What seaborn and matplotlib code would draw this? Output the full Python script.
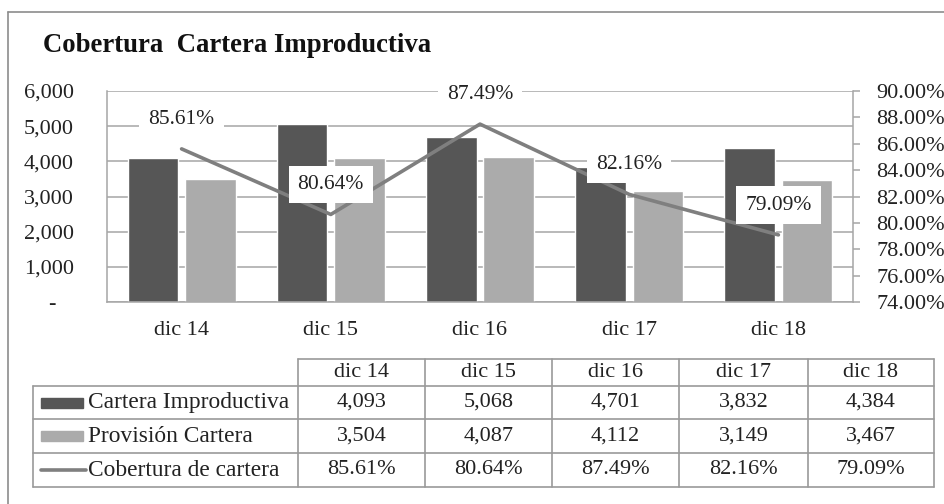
import numpy as np
import pandas as pd
import matplotlib
matplotlib.use("Agg")
import matplotlib.pyplot as plt
from matplotlib.lines import Line2D
from matplotlib.patches import Rectangle
import seaborn as sns

# ---- data ----
categories = ["dic 14", "dic 15", "dic 16", "dic 17", "dic 18"]
cartera_improductiva = [4093, 5068, 4701, 3832, 4384]
provision_cartera = [3504, 4087, 4112, 3149, 3467]
cobertura = [85.61, 80.64, 87.49, 82.16, 79.09]
series_names = ["Cartera Improductiva", "Provisión Cartera", "Cobertura de cartera"]
title = "Cobertura  Cartera Improductiva"
left_ticks = [0, 1000, 2000, 3000, 4000, 5000, 6000]
right_ticks = [74, 76, 78, 80, 82, 84, 86, 88, 90]

DARK = "#565656"
LIGHT = "#ababab"
LINE = "#7f7f7f"
GRID = "#a6a6a6"
FONT = "Liberation Serif"

sns.set_theme(style="white")
plt.rcParams["font.family"] = [FONT, "DejaVu Serif"]

W, H = 945, 504
fig = plt.figure(figsize=(W / 100, H / 100), dpi=100)


def fx(x):
    return x / W


def fy(y):
    return 1 - y / H


# outer frame (left and top visible)
fig.add_artist(Line2D([fx(8), fx(8)], [0, fy(12)], color="#8c8c8c", lw=1.2))
fig.add_artist(Line2D([fx(8), 1], [fy(12), fy(12)], color="#8c8c8c", lw=1.2))

# title
fig.text(fx(43), fy(45), title, fontsize=19.3, fontweight="bold",
         ha="left", va="center", color="#111111")

# ---- main axes ----
ax = fig.add_axes([fx(107), fy(302), fx(853) - fx(107), fy(91) - fy(302)])
df = pd.DataFrame({
    "fecha": categories * 2,
    "valor": cartera_improductiva + provision_cartera,
    "serie": [series_names[0]] * len(categories) + [series_names[1]] * len(categories),
})
sns.barplot(data=df, x="fecha", y="valor", hue="serie",
            palette=[DARK, LIGHT], width=0.77, gap=0.12,
            ax=ax, legend=False, zorder=2)
ax.set_ylim(0, 6000)
ax.set_yticks(left_ticks)
ax.set_yticklabels(["-   " if v == 0 else f"{v:,}" for v in left_ticks])
ax.set_xlim(-0.5, len(categories) - 0.5)
ax.set_xlabel("")
ax.set_ylabel("")
ax.grid(axis="y", color=GRID, lw=1.1, zorder=0)
ax.set_axisbelow(True)
ax.tick_params(axis="y", length=0, pad=24, labelsize=16, labelcolor="#222222")
ax.tick_params(axis="x", length=0, pad=14, labelsize=16, labelcolor="#222222")
for s in ["top", "right"]:
    ax.spines[s].set_visible(False)
ax.spines["left"].set_color(GRID)
ax.spines["bottom"].set_color(GRID)
ax.spines["left"].set_linewidth(1.1)
ax.spines["bottom"].set_linewidth(1.1)

# ---- secondary axis: line ----
ax2 = ax.twinx()
xpos = np.arange(len(categories))
sns.lineplot(x=xpos, y=cobertura, ax=ax2, color=LINE, lw=2.6, legend=False)
ax2.set_ylim(74, 90)
ax2.set_yticks(right_ticks)
ax2.set_yticklabels([f"{v:.2f}%" for v in right_ticks])
ax2.set_xlim(-0.5, len(categories) - 0.5)
ax2.set_ylabel("")
ax2.tick_params(axis="y", length=5, width=1.1, color=GRID, pad=12,
                labelsize=16, labelcolor="#222222")
for s in ["top", "left", "bottom"]:
    ax2.spines[s].set_visible(False)
ax2.spines["right"].set_color(GRID)
ax2.spines["right"].set_linewidth(1.1)

for xi, v in zip(xpos, cobertura):
    ax2.annotate(f"{v:.2f}%", (xi, v), xytext=(0, 21.5), textcoords="offset points",
                 ha="center", va="center", fontsize=15.5, color="#222222", zorder=5,
                 bbox=dict(boxstyle="square,pad=0.42", fc="white", ec="none"))

# ---- data table ----
col_edges = [298, 425, 552, 679, 808, 934]
row_edges = [359, 386, 419, 453, 487]
tbl_left = 33
TC = "#9a9a9a"
lw = 1.2
fig.add_artist(Line2D([fx(col_edges[0]), fx(col_edges[-1])], [fy(row_edges[0])] * 2, color=TC, lw=lw))
for r in row_edges[1:]:
    fig.add_artist(Line2D([fx(tbl_left), fx(col_edges[-1])], [fy(r)] * 2, color=TC, lw=lw))
fig.add_artist(Line2D([fx(tbl_left)] * 2, [fy(row_edges[1]), fy(row_edges[-1])], color=TC, lw=lw))
for c in col_edges:
    fig.add_artist(Line2D([fx(c)] * 2, [fy(row_edges[0]), fy(row_edges[-1])], color=TC, lw=lw))

# header
for i, cat in enumerate(categories):
    cx = (col_edges[i] + col_edges[i + 1]) / 2
    cy = (row_edges[0] + row_edges[1]) / 2
    fig.text(fx(cx), fy(cy), cat, ha="center", va="center", fontsize=16, color="#222222")

rows = [
    [f"{v:,}" for v in cartera_improductiva],
    [f"{v:,}" for v in provision_cartera],
    [f"{v:.2f}%" for v in cobertura],
]
for r, (name, vals) in enumerate(zip(series_names, rows)):
    y0, y1 = row_edges[r + 1], row_edges[r + 2]
    cy = (y0 + y1) / 2
    # legend key
    if r < 2:
        fig.add_artist(Rectangle((fx(41), fy(cy + 5)), fx(83) - fx(41), fy(cy - 5) - fy(cy + 5),
                                 color=[DARK, LIGHT][r], transform=fig.transFigure))
    else:
        fig.add_artist(Line2D([fx(41), fx(86)], [fy(cy)] * 2, color=LINE, lw=2.6))
    fig.text(fx(88), fy(cy), name, ha="left", va="center", fontsize=16.8, color="#222222")
    for i, t in enumerate(vals):
        cx = (col_edges[i] + col_edges[i + 1]) / 2
        fig.text(fx(cx), fy(cy), t, ha="center", va="center", fontsize=16, color="#222222")

fig.savefig("out.png", dpi=100)
